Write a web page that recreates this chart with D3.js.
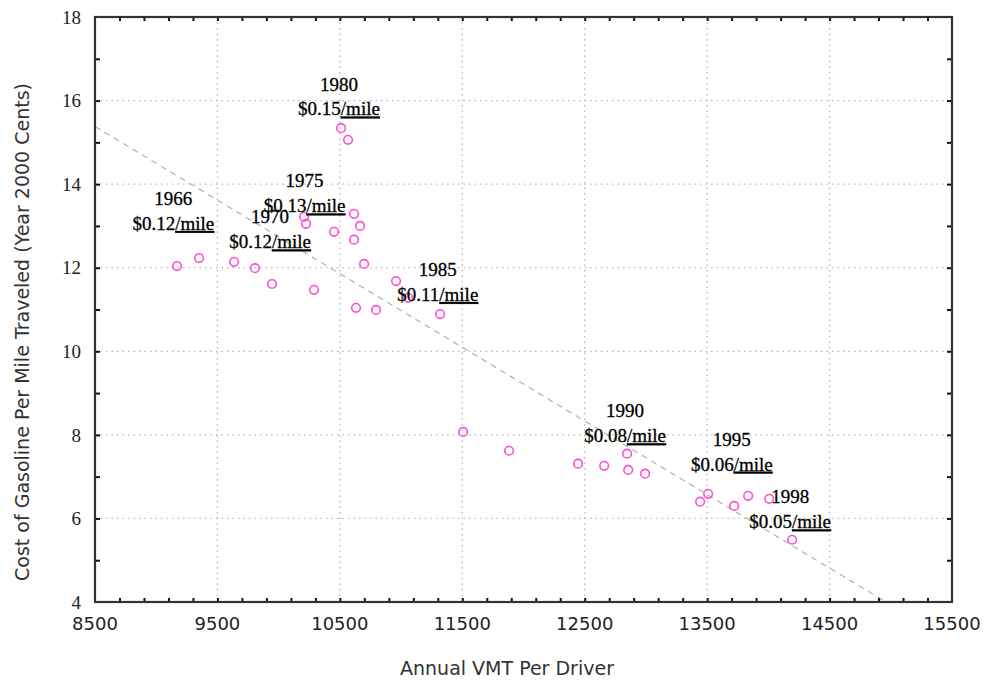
<!DOCTYPE html>
<html>
<head>
<meta charset="utf-8">
<script src="https://cdn.jsdelivr.net/npm/d3@7"></script>
<style>
  body { margin: 0; background: #ffffff; }
  svg { display: block; }
  .tick-x { font-family: "DejaVu Sans", Verdana, sans-serif; font-size: 18px; fill: #222; }
  .tick-y { font-family: "Liberation Serif", "Times New Roman", serif; font-size: 19px; fill: #222; }
  .axis-title { font-family: "DejaVu Sans", Verdana, sans-serif; font-size: 19px; fill: #333; }
  .note { font-family: "Liberation Serif", "Times New Roman", serif; font-size: 19px; fill: #000; stroke: #000; stroke-width: 0.3px; }
</style>
</head>
<body>
<svg id="chart"></svg>
<script>
// annual VMT per driver and gasoline cost per mile (year 2000 cents)
var vmt = [9170, 9350, 9636, 9807, 9946, 10289, 10208, 10224, 10453, 10616, 10616, 10665,
           10510, 10567, 10698, 10632, 10796, 10959, 11057, 11319,
           11507, 11882, 12446, 12659, 12846, 12855, 12993,
           13443, 13508, 13721, 13835, 14007, 14194];
var cost = [12.04, 12.23, 12.14, 11.99, 11.61, 11.47, 13.22, 13.05, 12.86, 12.67, 13.29, 13.00,
            15.34, 15.06, 12.09, 11.04, 10.99, 11.68, 11.28, 10.89,
            8.07, 7.62, 7.31, 7.26, 7.55, 7.16, 7.07,
            6.40, 6.59, 6.30, 6.54, 6.47, 5.49];

// trend line end points
var trendX = [8500, 14960];
var trendY = [15.38, 4.0];

// annotations
var noteYears = ["1966", "1970", "1975", "1980", "1985", "1990", "1995", "1998"];
var notePrices = ["$0.12", "$0.12", "$0.13", "$0.15", "$0.11", "$0.08", "$0.06", "$0.05"];
var noteX = [9140, 9930, 10212, 10493, 11300, 12830, 13702, 14178];
var noteY = [13.66, 13.22, 14.08, 16.40, 11.96, 8.58, 7.90, 6.52];

var xTicks = [8500, 9500, 10500, 11500, 12500, 13500, 14500, 15500];
var yTicks = [4, 6, 8, 10, 12, 14, 16, 18];

var width = 985, height = 687;
var margin = {top: 17, right: 33, bottom: 85, left: 95};

var svg = d3.select("#chart").attr("width", width).attr("height", height);

var x = d3.scaleLinear().domain([8500, 15500]).range([margin.left, width - margin.right]);
var y = d3.scaleLinear().domain([4, 18]).range([height - margin.bottom, margin.top]);

var x0 = x.range()[0], x1 = x.range()[1], y0 = y.range()[0], y1 = y.range()[1];

// dotted grid at the labelled values
var grid = svg.append("g").attr("class", "grid")
    .style("stroke", "#b8b8b8").style("stroke-width", 1.3).style("stroke-dasharray", "1.5,4");
grid.selectAll("line.gx")
    .data(xTicks.slice(1, -1))
    .enter().append("line")
    .attr("class", "gx")
    .attr("x1", function(d) { return x(d); }).attr("x2", function(d) { return x(d); })
    .attr("y1", y1).attr("y2", y0);
grid.selectAll("line.gy")
    .data(yTicks.slice(1, -1))
    .enter().append("line")
    .attr("class", "gy")
    .attr("y1", function(d) { return y(d); }).attr("y2", function(d) { return y(d); })
    .attr("x1", x0).attr("x2", x1);

// trend line
svg.append("line")
    .attr("x1", x(trendX[0])).attr("y1", y(trendY[0]))
    .attr("x2", x(trendX[1])).attr("y2", y(trendY[1]))
    .style("stroke", "#b0b0b0").style("stroke-width", 1.2).style("stroke-dasharray", "6,5");

// inward ticks on all four sides
var xMinor = d3.range(8700, 15500, 200);
var yMinor = d3.range(5, 18, 1);
var axisG = svg.append("g").attr("class", "axes");
axisG.append("g").attr("transform", "translate(0," + y0 + ")")
    .call(d3.axisBottom(x).tickValues(xMinor).tickSize(-4).tickFormat(""));
axisG.append("g").attr("transform", "translate(0," + y1 + ")")
    .call(d3.axisTop(x).tickValues(xMinor).tickSize(-4).tickFormat(""));
axisG.append("g").attr("transform", "translate(" + x0 + ",0)")
    .call(d3.axisLeft(y).tickValues(yMinor).tickSize(-5).tickFormat(""));
axisG.append("g").attr("transform", "translate(" + x1 + ",0)")
    .call(d3.axisRight(y).tickValues(yMinor).tickSize(-5).tickFormat(""));
axisG.selectAll(".domain").remove();
axisG.selectAll("line").style("stroke", "#111").style("stroke-width", 2);

// frame
svg.append("rect")
    .attr("x", x0).attr("y", y1)
    .attr("width", x1 - x0).attr("height", y0 - y1)
    .style("fill", "none").style("stroke", "#333").style("stroke-width", 2.2);

// tick labels
svg.selectAll("text.tick-x")
    .data(xTicks)
    .enter().append("text")
    .attr("class", "tick-x")
    .attr("x", function(d) { return x(d); })
    .attr("y", y0 + 28)
    .attr("text-anchor", "middle")
    .text(function(d) { return d; });

svg.selectAll("text.tick-y")
    .data(yTicks)
    .enter().append("text")
    .attr("class", "tick-y")
    .attr("x", x0 - 14)
    .attr("y", function(d) { return y(d); })
    .attr("dy", "0.35em")
    .attr("text-anchor", "end")
    .text(function(d) { return d; });

// axis titles
svg.append("text")
    .attr("class", "axis-title")
    .attr("x", 507).attr("y", 675)
    .attr("text-anchor", "middle")
    .text("Annual VMT Per Driver");

svg.append("text")
    .attr("class", "axis-title")
    .attr("transform", "translate(29,332) rotate(-90)")
    .attr("text-anchor", "middle")
    .text("Cost of Gasoline Per Mile Traveled (Year 2000 Cents)");

// points
svg.append("g").selectAll("circle")
    .data(vmt)
    .enter().append("circle")
    .attr("cx", function(d) { return x(d); })
    .attr("cy", function(d, i) { return y(cost[i]); })
    .attr("r", 4.3)
    .style("fill", "none")
    .style("stroke", "#ff4fcf")
    .style("stroke-width", 1.6);

// year / price notes
var notes = svg.append("g").selectAll("g")
    .data(noteYears)
    .enter().append("g")
    .attr("transform", function(d, i) { return "translate(" + x(noteX[i]) + "," + y(noteY[i]) + ")"; });

notes.append("text")
    .attr("class", "note")
    .attr("text-anchor", "middle")
    .attr("dy", "0.35em")
    .text(function(d) { return d; });

var price = notes.append("text")
    .attr("class", "note")
    .attr("text-anchor", "middle")
    .attr("y", 25)
    .attr("dy", "0.35em");
price.append("tspan").text(function(d, i) { return notePrices[i]; });
price.append("tspan").style("text-decoration", "underline").text("/mile");
</script>
</body>
</html>
